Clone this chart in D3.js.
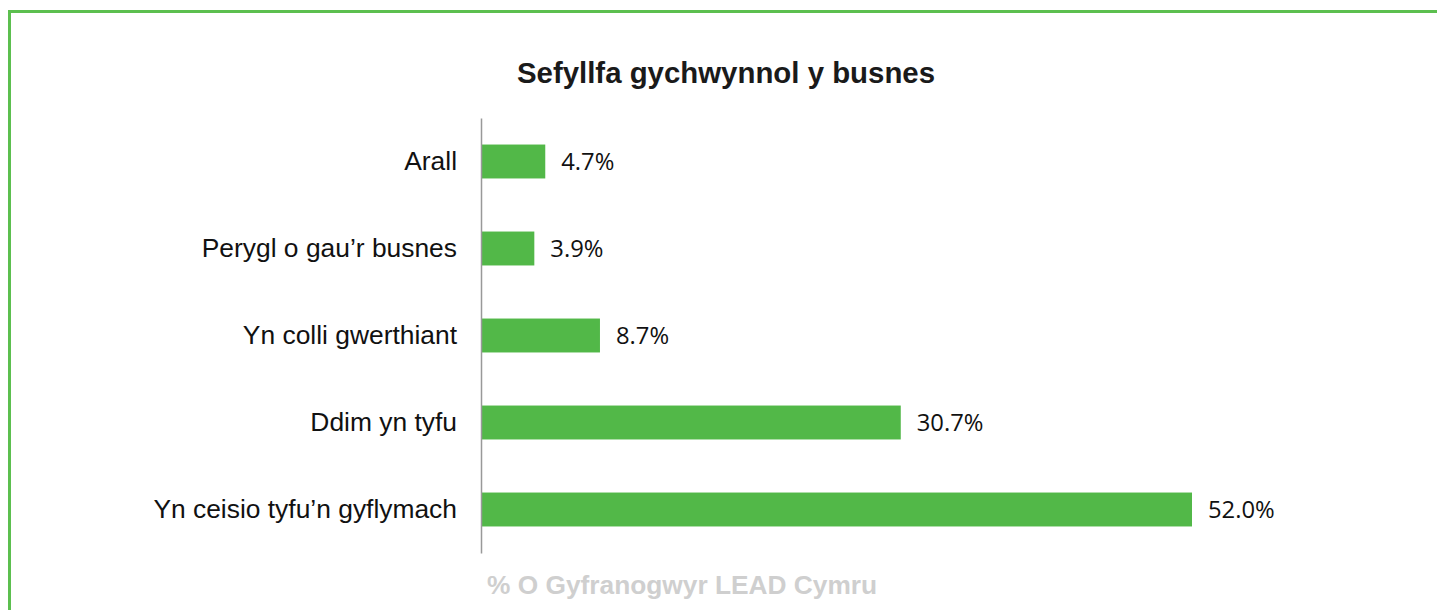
<!DOCTYPE html>
<html>
<head>
<meta charset="utf-8">
<script src="https://cdn.jsdelivr.net/npm/d3@7"></script>
<style>
  body { margin: 0; background: #fff; }
</style>
</head>
<body>
<div id="chart"></div>
<script>
// data
const categories = ["Arall", "Perygl o gau\u2019r busnes", "Yn colli gwerthiant", "Ddim yn tyfu", "Yn ceisio tyfu\u2019n gyflymach"];
const values = [4.7, 3.9, 8.7, 30.7, 52.0];
const valueLabels = ["4.7%", "3.9%", "8.7%", "30.7%", "52.0%"];

const svgWidth = 1437;
const svgHeight = 610;
const margin = { top: 118, left: 481 };
const chartHeight = 435;

const svg = d3.select("#chart").append("svg")
  .attr("width", svgWidth).attr("height", svgHeight);

// green frame (open on right and bottom)
svg.append("rect")
  .attr("x", 9.5).attr("y", 11.5)
  .attr("width", 1500).attr("height", 700)
  .attr("fill", "none").attr("stroke", "#5cbf4f").attr("stroke-width", 3);

svg.append("text")
  .attr("x", 726).attr("y", 83)
  .attr("text-anchor", "middle")
  .attr("font-family", "Liberation Sans, Arial, sans-serif")
  .attr("font-weight", "bold").attr("font-size", 29.4)
  .attr("fill", "#1a1a1a")
  .text("Sefyllfa gychwynnol y busnes");

const g = svg.append("g").attr("transform", `translate(${margin.left}, ${margin.top})`);

const x = d3.scaleLinear().domain([0, 52]).range([0, 711]);
const y = d3.scaleBand().domain(categories).range([0, chartHeight]).paddingInner(0.61).paddingOuter(0.305);

g.selectAll(".bar")
  .data(values)
  .enter()
  .append("rect")
  .attr("class", "bar")
  .attr("x", 0)
  .attr("y", (d, i) => y(categories[i]))
  .attr("width", d => x(d))
  .attr("height", y.bandwidth())
  .attr("fill", "#52b848");

g.selectAll(".val")
  .data(values)
  .enter()
  .append("text")
  .attr("class", "val")
  .attr("x", d => x(d) + 16)
  .attr("y", (d, i) => y(categories[i]) + y.bandwidth() / 2)
  .attr("dy", "0.35em")
  .attr("font-family", "Open Sans, sans-serif")
  .attr("font-size", 23.8)
  .attr("fill", "#111")
  .text((d, i) => valueLabels[i]);

const leftAxis = d3.axisLeft(y).tickSize(0).tickPadding(24);
const ax = g.append("g").call(leftAxis);
ax.select(".domain").attr("stroke", "#999").attr("stroke-width", 1.5);
ax.selectAll("text")
  .attr("font-family", "Liberation Sans, Arial, sans-serif")
  .attr("font-size", 26.4)
  .attr("fill", "#111");

svg.append("text")
  .attr("x", 487).attr("y", 594)
  .attr("font-family", "Liberation Sans, Arial, sans-serif")
  .attr("font-weight", "bold").attr("font-size", 26.3)
  .attr("fill", "#cfcfcf")
  .text("% O Gyfranogwyr LEAD Cymru");
</script>
</body>
</html>
